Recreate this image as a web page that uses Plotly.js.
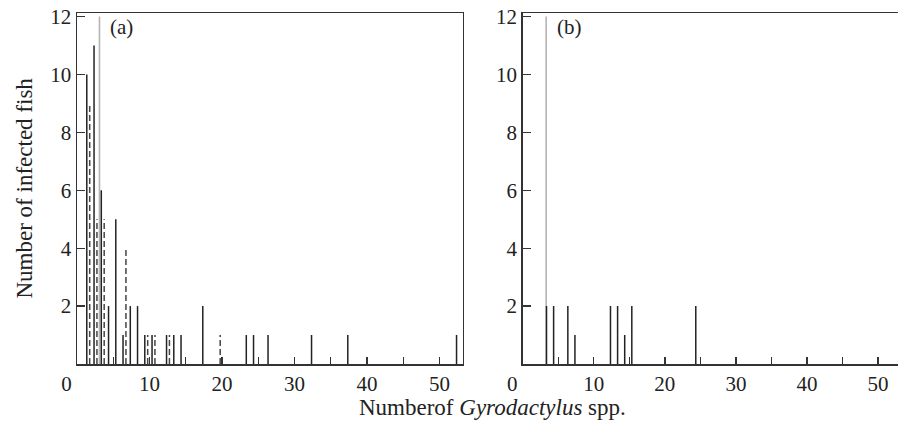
<!DOCTYPE html>
<html><head><meta charset="utf-8">
<script src="https://cdn.plot.ly/plotly-3.0.1.min.js"></script>
<style>html,body{margin:0;padding:0;background:#fff}#chart{width:898px;height:430px}</style>
</head><body><div id="chart"></div><script>
// ---- Data ----
// Panel (a): number of Gyrodactylus per fish -> number of infected fish
const countsA_solid  = [1, 2, 3, 4, 5, 6, 7, 8, 9, 10, 12, 13, 14, 17, 23, 24, 26, 32, 37, 52];
const fishA_solid    = [10, 11, 6, 2, 5, 1, 2, 2, 1, 1, 1, 1, 1, 2, 1, 1, 1, 1, 1, 1];
const countsA_dashed = [1, 2, 3, 6, 9, 10, 12, 19];
const fishA_dashed   = [9, 5, 5, 4, 1, 1, 1, 1];
const refLineA = 3.1;
// Panel (b)
const countsB_solid  = [3, 4, 6, 7, 12, 13, 14, 15, 24];
const fishB_solid    = [2, 2, 2, 1, 2, 2, 1, 2, 2];
const refLineB = 3.3;
const refLineTop = 12;
// Tick labels
const xTickVals = [0, 5, 10, 15, 20, 25, 30, 35, 40, 45, 50];
const xTickText = ['0\u2002\u2002', '', '10', '', '20', '', '30', '', '40', '', '50'];
const yTickVals = [2, 4, 6, 8, 10, 12];
const yTickText = ['2', '4', '6', '8', '10', '12'];

// ---- Drawing ----
const SOLID_OFF = 0.35, DASH_OFF = 0.75;
function stems(xs, ys, off) {
  const X = [], Y = [];
  xs.forEach((x, i) => { X.push(x + off, x + off, null); Y.push(0, ys[i], null); });
  return {x: X, y: Y};
}
const FONT = 'Liberation Serif, Times New Roman, serif';
const sA = stems(countsA_solid, fishA_solid, SOLID_OFF);
const dA = stems(countsA_dashed, fishA_dashed, DASH_OFF);
const sB = stems(countsB_solid, fishB_solid, SOLID_OFF);
const traces = [
  {x: [refLineA, refLineA], y: [0, refLineTop], xaxis: 'x', yaxis: 'y', mode: 'lines',
   line: {color: '#b4b4b4', width: 1.6}, hoverinfo: 'skip'},
  {x: sA.x, y: sA.y, xaxis: 'x', yaxis: 'y', mode: 'lines', connectgaps: false,
   line: {color: '#222', width: 1.5}},
  {x: dA.x, y: dA.y, xaxis: 'x', yaxis: 'y', mode: 'lines', connectgaps: false,
   line: {color: '#444', width: 1.5, dash: '6px,3px'}},
  {x: [refLineB, refLineB], y: [0, refLineTop], xaxis: 'x2', yaxis: 'y2', mode: 'lines',
   line: {color: '#b4b4b4', width: 1.6}, hoverinfo: 'skip'},
  {x: sB.x, y: sB.y, xaxis: 'x2', yaxis: 'y2', mode: 'lines', connectgaps: false,
   line: {color: '#222', width: 1.5}}
];
const xBase = {
  tickmode: 'array', tickvals: xTickVals, ticktext: xTickText,
  ticks: 'inside', ticklen: 7, tickwidth: 1.3, tickcolor: '#333',
  showline: true, linecolor: '#333', linewidth: 1.5, showgrid: false, zeroline: false,
  tickfont: {family: FONT, size: 21, color: '#222'}
};
const yBase = {
  tickmode: 'array', tickvals: yTickVals, ticktext: yTickText, range: [0, 12.12],
  ticks: 'inside', ticklen: 8, tickwidth: 1.3, tickcolor: '#333',
  showline: true, linecolor: '#333', linewidth: 1.5, showgrid: false, zeroline: false,
  tickfont: {family: FONT, size: 21, color: '#222'}
};
const layout = {
  width: 898, height: 430,
  margin: {l: 0, r: 0, t: 13, b: 66},
  paper_bgcolor: '#fff', plot_bgcolor: '#fff',
  showlegend: false,
  xaxis:  Object.assign({}, xBase, {domain: [77/898, 462.7/898], range: [0, 53.2], mirror: true, anchor: 'y'}),
  yaxis:  Object.assign({}, yBase, {domain: [0, 1], mirror: true, anchor: 'x'}),
  xaxis2: Object.assign({}, xBase, {domain: [522.7/898, 1], range: [0, 52.8], mirror: true, anchor: 'y2'}),
  yaxis2: Object.assign({}, yBase, {domain: [0, 1], mirror: false, anchor: 'x2'}),
  annotations: [
    {text: '(a)', xref: 'paper', yref: 'paper', x: 108/898, y: 0.96, xanchor: 'left', yanchor: 'middle',
     showarrow: false, font: {family: FONT, size: 21, color: '#222'}},
    {text: '(b)', xref: 'paper', yref: 'paper', x: 555/898, y: 0.96, xanchor: 'left', yanchor: 'middle',
     showarrow: false, font: {family: FONT, size: 21, color: '#222'}},
    {text: 'Numberof <i>Gyrodactylus</i> spp.', xref: 'paper', yref: 'paper', x: 492/898, y: -0.125,
     xanchor: 'center', yanchor: 'middle', showarrow: false, font: {family: FONT, size: 23, color: '#222'}},
    {text: 'Number of infected fish', xref: 'paper', yref: 'paper', x: 24/898, y: 0.5, textangle: -90,
     xanchor: 'center', yanchor: 'middle', showarrow: false, font: {family: FONT, size: 23, color: '#222'}}
  ]
};
Plotly.newPlot('chart', traces, layout, {displayModeBar: false, staticPlot: true});
</script></body></html>
